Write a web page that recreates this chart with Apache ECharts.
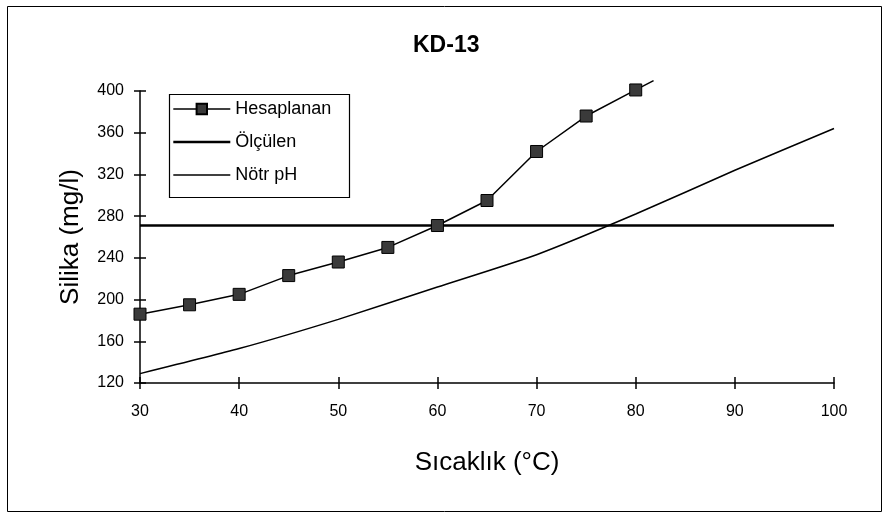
<!DOCTYPE html>
<html>
<head>
<meta charset="utf-8">
<script src="https://cdn.jsdelivr.net/npm/echarts@6/dist/echarts.min.js"></script>
<style>html,body{margin:0;padding:0;background:#fff}#c{width:884px;height:513px}</style>
</head>
<body>
<div id="c"></div>
<script>
var titleText = 'KD-13';
var xName = 'Sıcaklık (°C)';
var yName = 'Silika (mg/l)';
var seriesNames = ['Hesaplanan', 'Ölçülen', 'Nötr pH'];
var hesaplanan = [[30,186],[35,195],[40,205],[45,223],[50,236],[55,250],[60,271],[65,295],[70,342],[75,376],[80,401]];
var hesaplananEnd = [81.8,410];
var olculen = [[30,271],[100,271]];
var notrPH = [[30,129],[40,153],[50,181],[60,212],[70,243],[80,282],[90,324],[100,364]];
var xMin = 30, xMax = 100, xStep = 10;
var yMin = 120, yMax = 400, yStep = 40;

var chart = echarts.init(document.getElementById('c'));
var font = 'Liberation Sans, Arial, sans-serif';
var hData = hesaplanan.map(function(p){return p;});
hData.push({value: hesaplananEnd, symbol: 'none'});
var lineWidths = [1.5, 2.6, 1.5];

chart.setOption({
  animation: false,
  backgroundColor: '#fff',
  title: {text: titleText, left: 408, top: 29,
    textStyle: {fontFamily: font, fontSize: 23, fontWeight: 'bold', color: '#000'}},
  grid: {left: 140, right: 50, top: 91, bottom: 130},
  legend: {
    orient: 'vertical', left: 172, top: 99, padding: 0,
    itemWidth: 57, itemHeight: 13, itemGap: 13, itemTextGap: 3,
    textStyle: {fontFamily: font, fontSize: 18, color: '#000', lineHeight: 20},
    data: seriesNames.map(function(n, i){
      return {name: n, lineStyle: {width: lineWidths[i], color: '#000'}};
    })
  },
  xAxis: [{
    type: 'value', min: xMin, max: xMax, interval: xStep,
    name: xName, nameLocation: 'middle', nameGap: 67,
    nameTextStyle: {fontFamily: font, fontSize: 26, color: '#000'},
    axisLine: {lineStyle: {color: '#000', width: 1.5}},
    axisTick: {show: true, length: 6, lineStyle: {color: '#000', width: 1.5}},
    axisLabel: {fontFamily: font, fontSize: 16, color: '#000', margin: 21},
    splitLine: {show: false}
  }, {
    type: 'value', min: xMin, max: xMax, interval: xStep, position: 'bottom',
    axisLine: {show: false},
    axisTick: {show: true, inside: true, length: 6, lineStyle: {color: '#000', width: 1.5}},
    axisLabel: {show: false}, splitLine: {show: false}
  }],
  yAxis: [{
    type: 'value', min: yMin, max: yMax, interval: yStep,
    name: yName, nameLocation: 'middle', nameGap: 56, nameRotate: 90,
    nameTextStyle: {fontFamily: font, fontSize: 26, color: '#000'},
    axisLine: {show: true, lineStyle: {color: '#000', width: 1.5}},
    axisTick: {show: true, length: 6, lineStyle: {color: '#000', width: 1.5}},
    axisLabel: {fontFamily: font, fontSize: 16, color: '#000', margin: 16},
    splitLine: {show: false}
  }, {
    type: 'value', min: yMin, max: yMax, interval: yStep, position: 'left',
    axisLine: {show: false},
    axisTick: {show: true, inside: true, length: 6, lineStyle: {color: '#000', width: 1.5}},
    axisLabel: {show: false}, splitLine: {show: false}
  }],
  graphic: [
    {type: 'rect', left: 5, top: 4, shape: {width: 874, height: 505},
     style: {fill: 'none', stroke: '#000', lineWidth: 1}, silent: true},
    {type: 'rect', left: 167, top: 92, shape: {width: 180, height: 103},
     style: {fill: 'none', stroke: '#000', lineWidth: 1.2}, silent: true, z: 10}
  ],
  series: [{
    name: seriesNames[0], type: 'line', data: hData, clip: false,
    symbol: 'rect', symbolSize: 12,
    itemStyle: {color: '#3a3a3a', borderColor: '#000', borderWidth: 1},
    lineStyle: {color: '#000', width: lineWidths[0]}, z: 5
  }, {
    name: seriesNames[1], type: 'line', data: olculen, symbol: 'none',
    itemStyle: {color: 'rgba(0,0,0,0)', borderWidth: 0},
    lineStyle: {color: '#000', width: lineWidths[1]}
  }, {
    name: seriesNames[2], type: 'line', data: notrPH, symbol: 'none', smooth: 0.2,
    itemStyle: {color: 'rgba(0,0,0,0)', borderWidth: 0},
    lineStyle: {color: '#000', width: lineWidths[2]}
  }]
});
</script>
</body>
</html>
